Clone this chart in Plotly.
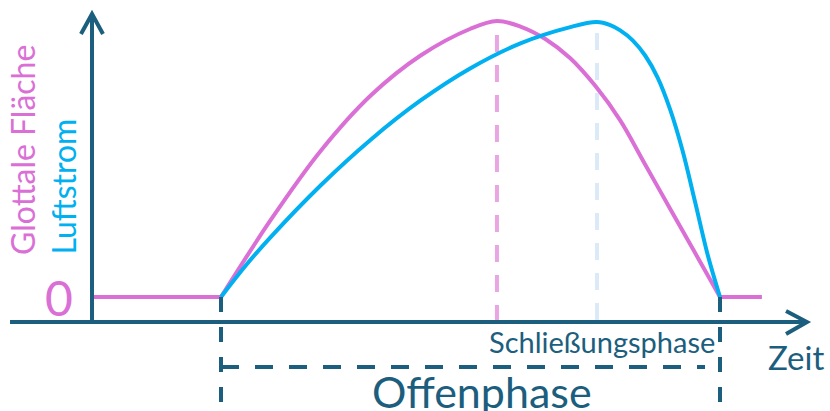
import plotly.graph_objects as go

# ---- data (time normalised: opening at 0, closure at 1; amplitude normalised to peak 1) ----
area_t = [0.0, 0.1, 0.2, 0.3, 0.4, 0.5, 0.553, 0.6, 0.65, 0.7, 0.75, 0.8, 0.85, 0.9, 0.95, 1.0]
area_y = [0.0, 0.28, 0.53, 0.73, 0.875, 0.972, 1.0, 0.98, 0.935, 0.865, 0.765, 0.64, 0.48, 0.32, 0.16, 0.0]

flow_t = [0.0, 0.05, 0.1, 0.2, 0.3, 0.4, 0.5, 0.6, 0.7, 0.753, 0.78, 0.8, 0.825, 0.85, 0.875,
          0.9, 0.925, 0.95, 0.975, 1.0]
flow_y = [0.0, 0.115, 0.218, 0.405, 0.57, 0.712, 0.829, 0.919, 0.978, 0.996, 0.985, 0.966, 0.93,
          0.875, 0.795, 0.68, 0.53, 0.345, 0.155, 0.0]

closed_before_t = [-0.2585, 0.0]
closed_after_t = [1.0, 1.084]
closed_y = [0.0, 0.0]

area_peak_t = 0.553
flow_peak_t = 0.7535
open_start_t = 0.0
open_end_t = 1.0

# ---- styling ----
PINK = "#DA70D6"
PINK_LIGHT = "#E8A6E2"
CYAN = "#00B0F0"
BLUE_LIGHT = "#DCE9F6"
DARK = "#1C5E7E"
FONT = "Lato"

X_RANGE = [-0.44289, 1.22044]
Y_RANGE = [-0.41304, 1.07609]
AXIS_Y = -0.0906      # level of the time axis
AXIS_X = -0.2585      # position of the vertical axis
BRACKET_Y = -0.2536

fig = go.Figure()

# dashed peak markers
fig.add_trace(go.Scatter(x=[area_peak_t, area_peak_t], y=[0.9493, AXIS_Y], mode="lines",
                         line=dict(color=PINK_LIGHT, width=4, dash="17px,13px"), hoverinfo="skip"))
fig.add_trace(go.Scatter(x=[flow_peak_t, flow_peak_t], y=[0.9565, AXIS_Y], mode="lines",
                         line=dict(color=BLUE_LIGHT, width=4, dash="17px,13px"), hoverinfo="skip"))

# closed phase (zero) lines
fig.add_trace(go.Scatter(x=closed_before_t, y=closed_y, mode="lines",
                         line=dict(color=PINK, width=4), hoverinfo="skip"))
fig.add_trace(go.Scatter(x=closed_after_t, y=closed_y, mode="lines",
                         line=dict(color=PINK, width=4), hoverinfo="skip"))

# curves
fig.add_trace(go.Scatter(x=area_t, y=area_y, mode="lines", line_shape="spline",
                         line=dict(color=PINK, width=4), name="Glottale Fläche"))
fig.add_trace(go.Scatter(x=flow_t, y=flow_y, mode="lines", line_shape="spline",
                         line=dict(color=CYAN, width=4), name="Luftstrom"))

shapes = []
# axes
shapes.append(dict(type="line", x0=-0.4228, x1=1.1743, y0=AXIS_Y, y1=AXIS_Y,
                   line=dict(color=DARK, width=4)))
shapes.append(dict(type="line", x0=AXIS_X, x1=AXIS_X, y0=AXIS_Y, y1=1.0254,
                   line=dict(color=DARK, width=4)))
# arrow heads
shapes.append(dict(type="path", path=f"M -0.2806,0.9529 L {AXIS_X},1.0254 L -0.2365,0.9529",
                   line=dict(color=DARK, width=4)))
shapes.append(dict(type="path", path=f"M 1.1323,-0.0507 L 1.1743,{AXIS_Y} L 1.1323,-0.1341",
                   line=dict(color=DARK, width=4)))
# open phase bracket
for tx in (open_start_t, open_end_t):
    shapes.append(dict(type="line", x0=tx, x1=tx, y0=0.0, y1=Y_RANGE[0],
                       line=dict(color=DARK, width=4, dash="15px,15px")))
shapes.append(dict(type="line", x0=open_start_t, x1=0.970, y0=BRACKET_Y, y1=BRACKET_Y,
                   line=dict(color=DARK, width=4, dash="18px,16px")))

annotations = [
    dict(x=-0.325, y=0.0, text="0", showarrow=False, xanchor="center", yanchor="middle",
         font=dict(family=FONT, size=48, color=PINK)),
    dict(x=-0.3988, y=0.5326, text="Glottale Fläche", showarrow=False, textangle=-90,
         xanchor="center", yanchor="middle", font=dict(family=FONT, size=32, color=PINK)),
    dict(x=-0.3146, y=0.400, text="Luftstrom", showarrow=False, textangle=-90,
         xanchor="center", yanchor="middle", font=dict(family=FONT, size=32, color=CYAN)),
    dict(x=0.7645, y=-0.1630, text="Schließungsphase", showarrow=False, xanchor="center",
         yanchor="middle", font=dict(family=FONT, size=29, color=DARK)),
    dict(x=1.1523, y=-0.2190, text="Zeit", showarrow=False, xanchor="center",
         yanchor="middle", font=dict(family=FONT, size=33, color=DARK)),
    dict(x=0.5240, y=-0.3430, text="Offenphase", showarrow=False, xanchor="center",
         yanchor="middle", font=dict(family=FONT, size=43, color=DARK)),
]

fig.update_layout(
    width=830, height=411,
    margin=dict(l=0, r=0, t=0, b=0),
    paper_bgcolor="white", plot_bgcolor="white",
    showlegend=False,
    xaxis=dict(range=X_RANGE, visible=False, fixedrange=True),
    yaxis=dict(range=Y_RANGE, visible=False, fixedrange=True),
    shapes=shapes,
    annotations=annotations,
)

fig.write_html("out.html", config={"displayModeBar": False},
               post_script="document.body.style.margin='0px';document.body.style.overflow='hidden';")
